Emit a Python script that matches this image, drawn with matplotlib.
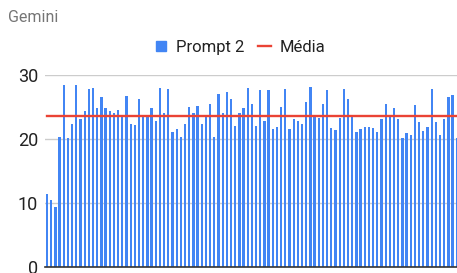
import numpy as np
import matplotlib
matplotlib.use('Agg')
import matplotlib.pyplot as plt
from matplotlib.lines import Line2D

plt.rcParams['font.family'] = ['Roboto', 'DejaVu Sans']

# scores (last bar is partly cut off at the right edge)
prompt2 = [11.4, 10.5, 9.4, 20.4, 28.4, 20.1, 22.3, 28.4, 23.1, 24.4,
           27.8, 27.9, 24.9, 26.6, 24.9, 24.4, 24.0, 24.5, 23.6, 26.8,
           22.3, 22.2, 26.3, 23.6, 23.6, 24.9, 22.9, 28.0, 24.1, 27.8,
           21.1, 21.5, 20.3, 22.4, 25.0, 24.0, 25.1, 22.4, 23.6, 25.4,
           20.4, 27.1, 24.0, 27.4, 26.2, 22.1, 24.0, 24.9, 27.9, 25.5,
           22.1, 27.6, 22.9, 27.6, 21.5, 21.9, 25.0, 27.8, 21.6, 23.2,
           22.9, 22.4, 25.8, 28.2, 23.5, 23.3, 25.5, 27.7, 21.7, 21.4,
           23.3, 27.8, 26.3, 23.75, 21.1, 21.5, 21.9, 21.9, 21.8, 21.1,
           23.2, 25.4, 23.75, 24.9, 23.1, 20.2, 21.0, 20.7, 25.3, 22.7,
           21.2, 21.9, 27.8, 22.6, 20.6, 23.1, 26.6, 26.9, 20.2]
media = 23.65
yticks = [0, 10, 20, 30]

W, H = 457, 273
fig = plt.figure(figsize=(W / 100, H / 100), dpi=100)
# plot area runs past the right edge of the picture, like the original crop
ax = fig.add_axes([45 / W, 5.7 / H, 418 / W, (267.3 - 75) / H])

x = np.arange(len(prompt2))
ax.bar(x, prompt2, width=0.55, color='#4285F4', zorder=2)
ax.plot(x, [media] * len(x), color='#EA4335', lw=1.7, zorder=3)

ax.set_xlim(-0.5, 99.5)
ax.set_ylim(0, 30)
ax.set_yticks(yticks)
ax.set_xticks([])
ax.tick_params(axis='y', length=0, pad=5, labelsize=13, labelcolor='#222222')
ax.yaxis.grid(True, color='#cccccc', lw=1, zorder=0)
for s in ['top', 'right', 'left']:
    ax.spines[s].set_visible(False)
ax.spines['bottom'].set_color('#333333')
ax.spines['bottom'].set_linewidth(1.2)
ax.spines['bottom'].set_zorder(4)

fig.text(8 / W, 1 - 17 / H, 'Gemini', va='center', ha='left',
         fontsize=11.5, color='#757575')

handles = [Line2D([], [], marker='s', ls='none', color='#4285F4', markersize=7.5),
           Line2D([], [], color='#EA4335', lw=1.7)]
fig.legend(handles, ['Prompt 2', 'Média'], ncol=2, loc='center',
           bbox_to_anchor=(240 / W, 1 - 47 / H), frameon=False,
           fontsize=12, handlelength=0.75, handletextpad=0.5,
           columnspacing=0.85, labelcolor='#222222')

fig.savefig('out.png', dpi=100)
